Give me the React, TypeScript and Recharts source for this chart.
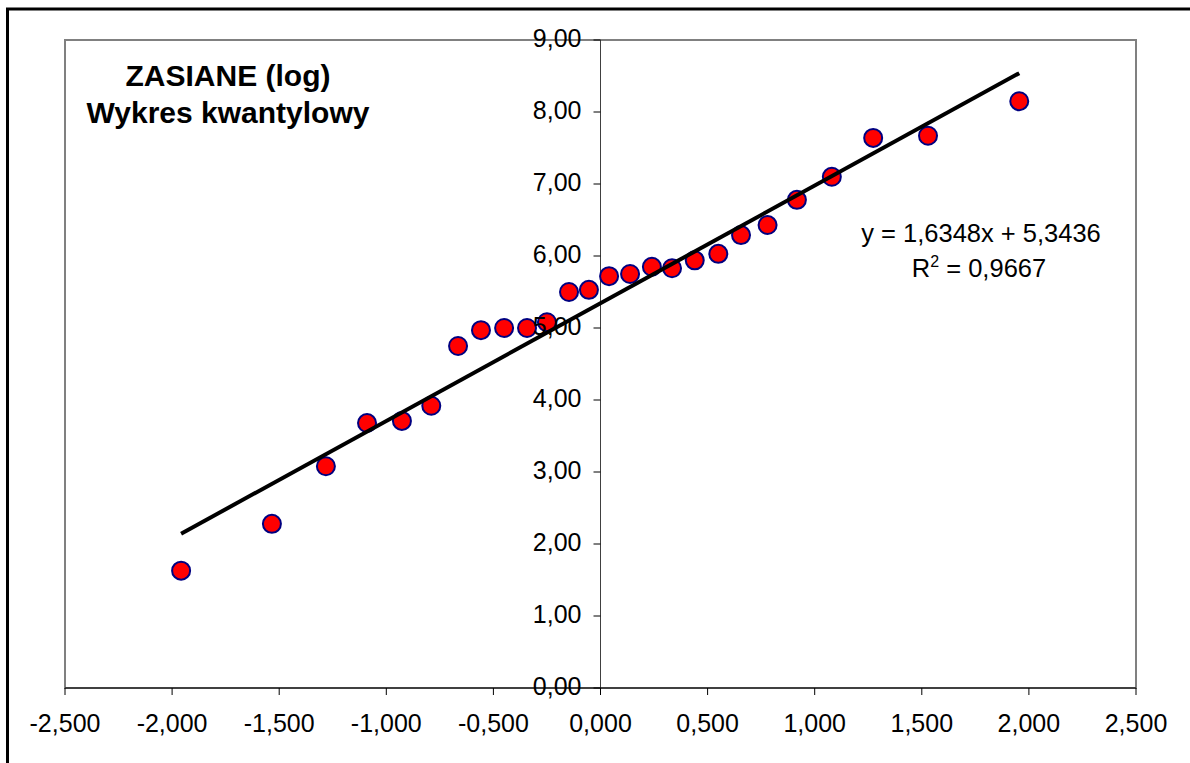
import React from "react";
import {
  ScatterChart,
  Scatter,
  XAxis,
  YAxis,
  ReferenceLine,
  ReferenceDot,
  ReferenceArea,
} from "recharts";

// Theoretical normal quantiles (x) and sorted log values (y)
const quantiles = [
  -1.958, -1.534, -1.282, -1.09, -0.927, -0.79, -0.665, -0.558, -0.45, -0.343,
  -0.25, -0.147, -0.054, 0.04, 0.138, 0.24, 0.334, 0.44, 0.55, 0.656, 0.78,
  0.917, 1.08, 1.273, 1.529, 1.955,
];
const values = [
  1.63, 2.28, 3.08, 3.68, 3.71, 3.92, 4.75, 4.97, 5.0, 5.0, 5.08, 5.5, 5.53,
  5.72, 5.75, 5.85, 5.83, 5.94, 6.03, 6.29, 6.43, 6.78, 7.1, 7.64, 7.67, 8.15,
];
const xTicks = [-2.5, -2, -1.5, -1, -0.5, 0, 0.5, 1, 1.5, 2, 2.5];
const yTicks = [0, 1, 2, 3, 4, 5, 6, 7, 8, 9];
const slope = 1.6348;
const intercept = 5.3436;
const rSquared = "0,9667";
const titleLines = ["ZASIANE (log)", "Wykres kwantylowy"];

const points = quantiles.map((x, i) => ({ x, y: values[i] }));
const trendX = [quantiles[0], quantiles[quantiles.length - 1]];
const trend = trendX.map((x) => ({ x, y: slope * x + intercept }));

const FONT = "'Liberation Sans', Arial, sans-serif";
const AXIS_FS = 25;
const fmtX = (v: number) => v.toFixed(3).replace(".", ",");
const fmtY = (v: number) => v.toFixed(2).replace(".", ",");

const Marker = (props: any) => (
  <circle
    cx={props.cx}
    cy={props.cy}
    r={9}
    fill="#FF0000"
    stroke="#000080"
    strokeWidth={2}
  />
);

const YTick = (value: number) => (props: any) => {
  const { cx, cy } = props;
  return (
    <g>
      <line x1={cx - 7} y1={cy} x2={cx} y2={cy} stroke="#000" strokeWidth={1} />
      <text
        x={cx - 19}
        y={cy + 7}
        textAnchor="end"
        fontSize={AXIS_FS}
        fontFamily={FONT}
        fill="#000"
      >
        {fmtY(value)}
      </text>
    </g>
  );
};

export default function App() {
  return (
    <div style={{ position: "absolute", left: 0, top: 0, width: 1190, height: 763, background: "#fff" }}>
      <ScatterChart
        width={1190}
        height={763}
        margin={{ top: 40, right: 54, left: 65, bottom: 0 }}
      >
        <XAxis
          type="number"
          dataKey="x"
          domain={[-2.5, 2.5]}
          ticks={xTicks}
          tickFormatter={fmtX}
          allowDataOverflow
          height={75}
          tickSize={7}
          tickMargin={19}
          axisLine={{ stroke: "#000", strokeWidth: 1 }}
          tickLine={{ stroke: "#000", strokeWidth: 1 }}
          tick={{ fontSize: AXIS_FS, fontFamily: FONT, fill: "#000" }}
        />
        <YAxis type="number" dataKey="y" domain={[0, 9]} ticks={yTicks} hide allowDataOverflow />
        <ReferenceArea
          x1={-2.5}
          x2={2.5}
          y1={0}
          y2={9}
          fill="none"
          stroke="#808080"
          strokeWidth={2}
          ifOverflow="visible"
        />
        <ReferenceLine x={0} stroke="#404040" strokeWidth={1} ifOverflow="visible" />
        <Scatter data={points} shape={<Marker />} isAnimationActive={false} />
        <Scatter
          data={trend}
          line={{ stroke: "#000", strokeWidth: 4 }}
          shape={() => null}
          isAnimationActive={false}
        />
        {yTicks.map((t) => (
          <ReferenceDot key={t} x={0} y={t} r={0} ifOverflow="visible" shape={YTick(t)} />
        ))}
      </ScatterChart>
      <svg
        width={1190}
        height={763}
        style={{ position: "absolute", left: 0, top: 0, pointerEvents: "none" }}
      >
        <rect x={7.5} y={9} width={1200} height={800} fill="none" stroke="#000" strokeWidth={3} />
        <text x={228} y={86} textAnchor="middle" fontSize={30} fontWeight="bold" fontFamily={FONT} fill="#000">
          {titleLines[0]}
        </text>
        <text x={228} y={123} textAnchor="middle" fontSize={30} fontWeight="bold" fontFamily={FONT} fill="#000">
          {titleLines[1]}
        </text>
        <text x={981} y={242} textAnchor="middle" fontSize={25.5} fontFamily={FONT} fill="#000">
          {`y = ${slope.toString().replace(".", ",")}x + ${intercept.toString().replace(".", ",")}`}
        </text>
        <text x={979} y={277} textAnchor="middle" fontSize={25.5} fontFamily={FONT} fill="#000">
          R<tspan fontSize={16} dy={-10}>2</tspan>
          <tspan dy={10}>{` = ${rSquared}`}</tspan>
        </text>
      </svg>
    </div>
  );
}
